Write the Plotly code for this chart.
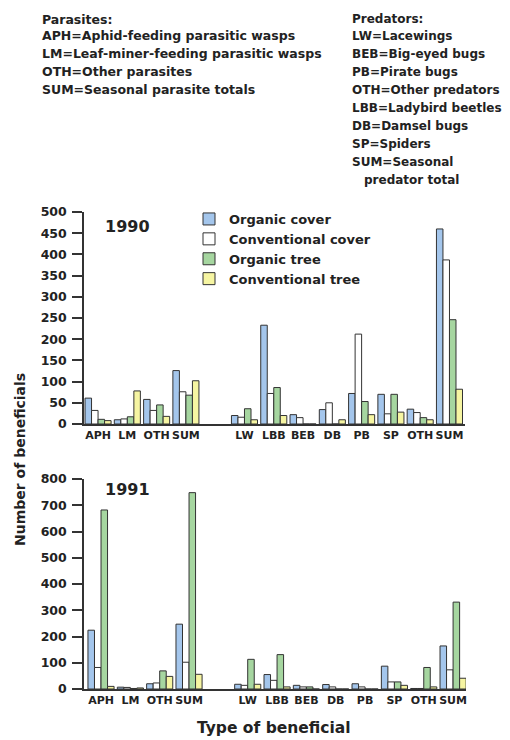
import plotly.graph_objects as go

# ---------------- data ----------------
parasite_cats = ["APH", "LM", "OTH", "SUM"]
predator_cats = ["LW", "LBB", "BEB", "DB", "PB", "SP", "OTH", "SUM"]
series_names = ["Organic cover", "Conventional cover", "Organic tree", "Conventional tree"]

organic_cover_1990 = [61, 10, 58, 126, 20, 233, 22, 34, 72, 70, 35, 460]
conv_cover_1990 = [32, 12, 32, 76, 16, 72, 15, 50, 212, 24, 27, 387]
organic_tree_1990 = [11, 17, 45, 68, 36, 86, 0, 0, 53, 70, 15, 246]
conv_tree_1990 = [8, 78, 18, 102, 10, 20, 0, 10, 22, 28, 10, 82]

organic_cover_1991 = [224, 7, 20, 247, 18, 55, 14, 17, 20, 87, 2, 164]
conv_cover_1991 = [82, 6, 23, 102, 14, 33, 8, 8, 8, 27, 2, 73]
organic_tree_1991 = [682, 2, 69, 748, 113, 131, 8, 0, 0, 27, 82, 331]
conv_tree_1991 = [10, 4, 48, 56, 18, 8, 0, 0, 0, 14, 8, 41]

y_ticks_1990 = [0, 50, 100, 150, 200, 250, 300, 350, 400, 450, 500]
y_ticks_1991 = [0, 100, 200, 300, 400, 500, 600, 700, 800]

parasite_lines = ["Parasites:",
                  "APH=Aphid-feeding parasitic wasps",
                  "LM=Leaf-miner-feeding parasitic wasps",
                  "OTH=Other parasites",
                  "SUM=Seasonal parasite totals"]
predator_lines = ["Predators:",
                  "LW=Lacewings",
                  "BEB=Big-eyed bugs",
                  "PB=Pirate bugs",
                  "OTH=Other predators",
                  "LBB=Ladybird beetles",
                  "DB=Damsel bugs",
                  "SP=Spiders",
                  "SUM=Seasonal",
                  "  predator total"]

# ---------------- styling ----------------
OFF = 8                 # page body margin in the browser
W, H = 510 - OFF, 740 - OFF
FONT = "DejaVu Sans"
INK = "#222222"
colors = ["#a4c6ec", "#ffffff", "#a6d6a0", "#f6f5a2"]

# x positions: parasites, one empty slot, predators
positions = list(range(len(parasite_cats))) + \
    [len(parasite_cats) + 1 + i for i in range(len(predator_cats))]
tick_text = parasite_cats + predator_cats

data_1990 = [organic_cover_1990, conv_cover_1990, organic_tree_1990, conv_tree_1990]
data_1991 = [organic_cover_1991, conv_cover_1991, organic_tree_1991, conv_tree_1991]

fig = go.Figure()
for name, col, vals in zip(series_names, colors, data_1990):
    fig.add_trace(go.Bar(x=positions, y=vals, name=name,
                         marker=dict(color=col, line=dict(color="#333333", width=1)),
                         xaxis="x", yaxis="y", showlegend=True))
for name, col, vals in zip(series_names, colors, data_1991):
    fig.add_trace(go.Bar(x=positions, y=vals, name=name,
                         marker=dict(color=col, line=dict(color="#333333", width=1)),
                         xaxis="x2", yaxis="y2", showlegend=False))


def px_x(p):
    return (p - OFF) / W


def px_y(p):
    return 1 - (p - OFF) / H


tickfont = dict(family=FONT, size=12.5, color=INK, weight="bold")
xcommon = dict(tickmode="array", tickvals=positions, ticktext=tick_text, showline=True,
               linecolor="#333333", linewidth=1.5, ticks="", showgrid=False, zeroline=False,
               tickangle=0,
               tickfont=dict(family=FONT, size=11, color=INK, weight="bold"), automargin=False)
ycommon = dict(showline=True, linecolor="#333333", linewidth=1.5, ticks="outside", ticklen=10,
               tickwidth=1.5, tickcolor="#333333", showgrid=False, zeroline=False,
               tickfont=tickfont, automargin=False, ticklabelstandoff=3)

fig.update_layout(
    width=W, height=H,
    margin=dict(l=0, r=0, t=0, b=0),
    paper_bgcolor="white", plot_bgcolor="white",
    font=dict(family=FONT, size=12.5, color=INK, weight="bold"),
    barmode="group", bargap=0.11, bargroupgap=0,
    xaxis=dict(domain=[px_x(84), px_x(465)], range=[-0.48, 12.53], anchor="y", **xcommon),
    yaxis=dict(domain=[px_y(424), px_y(212)], range=[0, 500], tickvals=y_ticks_1990,
               anchor="x", **ycommon),
    xaxis2=dict(domain=[px_x(84), px_x(466)], range=[-0.58, 12.44], anchor="y2", **xcommon),
    yaxis2=dict(domain=[px_y(689), px_y(479)], range=[0, 800], tickvals=y_ticks_1991,
                anchor="x2", **ycommon),
    legend=dict(x=px_x(189), y=px_y(204), xanchor="left", yanchor="top",
                font=dict(family=FONT, size=13, color=INK, weight="bold"),
                bgcolor="rgba(0,0,0,0)", traceorder="normal", itemclick=False),
    showlegend=True,
)

ann = []
# definition texts
par_y = [19.5, 35.5, 53.5, 71.5, 89.5]
for i, t in enumerate(parasite_lines):
    ann.append(dict(text=t, x=px_x(40), y=px_y(par_y[i]), xref="paper", yref="paper",
                    xanchor="left", yanchor="middle", showarrow=False,
                    font=dict(family=FONT, size=12.5, color=INK, weight="bold")))
for i, t in enumerate(predator_lines):
    yy = 19.5 if i == 0 else 35.5 + (i - 1) * 18.1
    xx = 350 if not t.startswith("  ") else 362
    ann.append(dict(text=t.strip(), x=px_x(xx), y=px_y(yy), xref="paper", yref="paper",
                    xanchor="left", yanchor="middle", showarrow=False,
                    font=dict(family=FONT, size=12, color=INK, weight="bold")))
# panel years
ann.append(dict(text="1990", x=px_x(103), y=px_y(226), xref="paper", yref="paper", xanchor="left",
                yanchor="middle", showarrow=False, font=dict(family=FONT, size=16, color=INK, weight="bold")))
ann.append(dict(text="1991", x=px_x(103), y=px_y(490), xref="paper", yref="paper", xanchor="left",
                yanchor="middle", showarrow=False, font=dict(family=FONT, size=16, color=INK, weight="bold")))
# axis titles
ann.append(dict(text="Number of beneficials", x=px_x(20), y=px_y(460), xref="paper", yref="paper",
                xanchor="center", yanchor="middle", textangle=-90, showarrow=False,
                font=dict(family=FONT, size=14, color=INK, weight="bold")))
ann.append(dict(text="Type of beneficial", x=px_x(274), y=px_y(728), xref="paper", yref="paper",
                xanchor="center", yanchor="middle", showarrow=False,
                font=dict(family=FONT, size=15.5, color=INK, weight="bold")))
fig.update_layout(annotations=ann)

fig.write_html("out.html")
